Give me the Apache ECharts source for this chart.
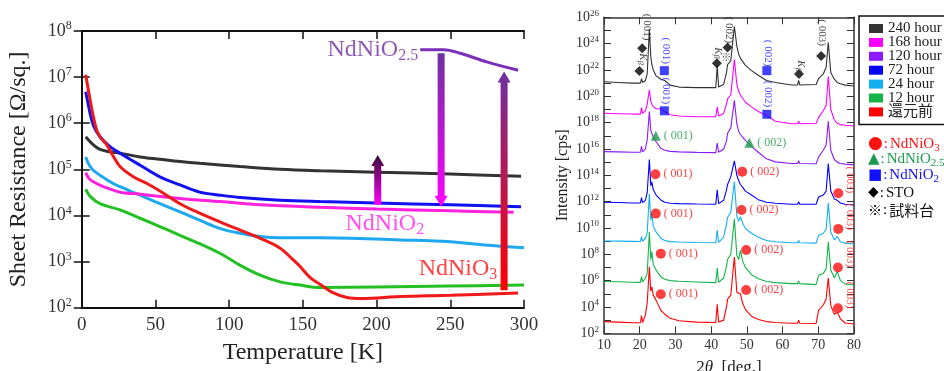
<!DOCTYPE html>
<html><head><meta charset="utf-8">
<script src="https://cdn.jsdelivr.net/npm/echarts@6/dist/echarts.min.js"></script>
<style>html,body{margin:0;padding:0;background:#fff}#c{width:944px;height:371px}</style>
</head><body><div id="c"></div>
<script>
// ================= Left panel: sheet resistance vs temperature =================
const tBlack = [2.7, 7.9, 12.4, 19, 26, 39.6, 53, 66.7, 80, 107.5, 134.6, 161.8, 200, 250, 298];
const rBlack = [5.1e5, 3.4e5, 2.7e5, 2.4e5, 2.24e5, 1.86e5, 1.66e5, 1.48e5, 1.35e5, 1.15e5, 1.0e5, 9.3e4, 8.7e4, 7.9e4, 7.1e4];
const tBlue = [2.7, 4.5, 5.7, 8, 12.4, 19.2, 26, 39.6, 53, 66.7, 80, 94, 107.5, 134.6, 161.8, 200, 250, 298];
const rBlue = [4.8e6, 2.5e6, 1.62e6, 8.9e5, 5.1e5, 3.1e5, 2.24e5, 1.23e5, 6.9e4, 4.6e4, 3.2e4, 2.75e4, 2.45e4, 2.14e4, 2.0e4, 1.86e4, 1.7e4, 1.55e4];
const tMagenta = [2.7, 5, 7.9, 14.7, 26, 39.6, 66.7, 94, 121, 161.8, 200, 250, 293];
const rMagenta = [8.5e4, 6.3e4, 5.4e4, 4.2e4, 3.2e4, 2.9e4, 2.34e4, 2.0e4, 1.7e4, 1.5e4, 1.38e4, 1.26e4, 1.17e4];
const tLightBlue = [2.7, 5, 7.9, 19.2, 26, 39.6, 53, 66.7, 80, 94, 107.5, 121, 134.6, 161.8, 216, 250, 273, 300];
const rLightBlue = [1.86e5, 1.26e5, 9.5e4, 5.4e4, 4.2e4, 2.75e4, 1.8e4, 1.2e4, 7.9e3, 5.2e3, 4.1e3, 3.5e3, 3.3e3, 3.3e3, 2.95e3, 2.7e3, 2.3e3, 2.0e3];
const tGreen = [2.7, 5.7, 12.4, 26, 39.6, 53, 66.7, 80, 94, 107.5, 121, 134.6, 148, 161.8, 200, 250, 300];
const rGreen = [3.7e4, 2.6e4, 1.8e4, 1.32e4, 8.7e3, 5.75e3, 3.7e3, 2.45e3, 1.5e3, 830, 510, 363, 309, 275, 282, 295, 309];
const tRed = [2.7, 5.7, 7.9, 10.2, 12.4, 17, 21.5, 26, 35, 44, 53, 66.7, 80, 94, 107.5, 121, 134.6, 143.7, 148, 155, 162, 170, 180, 190, 216, 250, 296];
const rRed = [1.12e7, 3.2e6, 1.4e6, 7.1e5, 5.1e5, 3.4e5, 1.9e5, 1.15e5, 6.9e4, 5.0e4, 3.4e4, 1.8e4, 1.12e4, 7.2e3, 4.8e3, 3.2e3, 1.95e3, 1.07e3, 790, 450, 316, 214, 166, 158, 174, 186, 209];
const tPurple = [229.6, 245.5, 256.6, 274.7, 296];
const rPurple = [3.9e7, 3.9e7, 3.3e7, 2.14e7, 1.41e7];

// arrows: temperature, start resistance, end (tip) resistance
const arrowT = [200.8, 243.8, 286.5];
const arrowFrom = [1.7e4, 3.3e7, 240];
const arrowTo = [2.04e5, 1.55e4, 1.32e7];

// compound labels (data position of text left edge / vertical centre)
const compoundT = [166.4, 178.6, 228.2];
const compoundR = [3.9e7, 6.5e3, 690];
const compoundSub = ['2.5', '2', '3'];

// ================= Right panel: XRD (log10 of intensity) =================
const twoTheta = [10, 14, 18, 20.2, 20.5, 20.8, 21.6, 22.1, 22.7, 23.1, 23.4, 23.8, 24.6, 25.9, 27.0, 28.5, 31, 36, 41.3, 41.7, 42.1, 43.5, 44.3, 44.6, 45.5, 46.5, 47.2, 47.7, 48.2, 48.8, 49.6, 51.3, 53.2, 55.5, 58, 62.5, 64.2, 64.5, 64.8, 69.4, 70.1, 71.4, 72.2, 72.8, 73.5, 74.5, 75.3, 76.2, 77.5, 80];
const xrd240Log = [21.1, 21.05, 21.0, 21.0, 21.35, 21.05, 21.2, 21.7, 25.1, 23.0, 22.4, 22.0, 21.55, 21.3, 21.2, 20.85, 20.7, 20.66, 20.66, 22.3, 20.7, 20.9, 21.8, 22.4, 22.7, 25.3, 23.8, 23.2, 22.9, 22.65, 22.35, 21.95, 21.6, 21.2, 21.05, 20.86, 20.86, 21.2, 20.86, 20.9, 21.35, 21.7, 22.2, 24.1, 21.8, 21.3, 21.05, 20.95, 20.85, 20.78];
const xrd168Log = [18.71, 18.68, 18.65, 18.65, 19.15, 18.7, 18.9, 19.4, 20.5, 19.6, 19.4, 19.2, 19.05, 19.05, 18.85, 18.6, 18.5, 18.45, 18.45, 19.2, 18.5, 18.7, 19.4, 19.8, 20.1, 22.8, 20.9, 20.4, 20.1, 19.85, 19.55, 19.2, 18.85, 18.55, 18.1, 17.92, 17.92, 18.1, 17.92, 17.95, 18.4, 18.9, 19.3, 21.5, 19.0, 18.2, 17.95, 17.85, 17.8, 17.75];
const xrd120Log = [15.8, 15.78, 15.75, 15.75, 16.2, 15.78, 16.0, 16.7, 18.85, 17.4, 17.3, 16.9, 16.55, 16.05, 15.9, 15.82, 15.78, 15.74, 15.72, 16.45, 15.75, 16.0, 16.6, 17.2, 17.6, 19.7, 17.9, 17.35, 17.1, 16.9, 16.65, 16.2, 15.75, 15.25, 15.02, 14.9, 14.9, 15.1, 14.9, 14.88, 15.4, 15.9, 16.3, 18.1, 15.9, 15.2, 15.0, 14.9, 14.85, 14.79];
const xrd72Log = [11.95, 11.93, 11.9, 11.9, 12.3, 11.92, 12.1, 12.7, 15.2, 13.2, 13.5, 12.9, 12.5, 12.13, 11.95, 11.88, 11.85, 11.82, 11.8, 12.9, 11.85, 12.1, 12.9, 13.3, 13.9, 15.1, 14.0, 13.6, 13.3, 13.1, 12.8, 12.5, 12.15, 11.95, 11.88, 11.8, 11.8, 12.0, 11.8, 11.8, 12.35, 12.5, 12.8, 14.9, 12.8, 12.2, 12.1, 11.9, 11.8, 11.75];
const xrd24Log = [9.01, 9.0, 8.98, 8.97, 9.35, 9.0, 9.2, 9.65, 12.6, 10.6, 11.1, 10.1, 9.7, 9.22, 9.05, 8.96, 8.93, 8.9, 8.88, 9.85, 8.9, 9.3, 10.3, 10.8, 11.2, 13.5, 10.9, 10.5, 10.85, 10.4, 9.95, 9.6, 9.3, 9.05, 8.95, 8.88, 8.88, 9.05, 8.88, 8.85, 9.45, 9.6, 9.9, 11.9, 9.7, 9.1, 9.35, 8.95, 8.85, 8.78];
const xrd12Log = [5.93, 5.92, 5.88, 5.87, 6.3, 5.9, 6.2, 6.55, 9.7, 7.6, 8.2, 7.2, 6.8, 6.3, 6.1, 6.0, 5.95, 5.9, 5.85, 6.95, 5.88, 6.2, 7.1, 7.6, 8.0, 10.7, 7.9, 7.6, 8.3, 7.5, 7.0, 6.45, 6.15, 5.93, 5.85, 5.77, 5.77, 5.95, 5.77, 5.7, 6.4, 6.55, 6.9, 8.95, 6.8, 6.2, 6.7, 6.0, 5.75, 5.67];
const xrd0Log = [2.89, 2.85, 2.8, 2.8, 3.35, 2.82, 3.4, 4.3, 7.05, 5.2, 5.5, 4.9, 4.5, 3.75, 3.45, 3.15, 2.95, 2.85, 2.82, 4.2, 2.85, 3.0, 4.0, 4.6, 4.9, 7.8, 5.1, 4.95, 5.0, 4.3, 3.8, 3.3, 3.05, 2.89, 2.82, 2.76, 2.76, 3.0, 2.76, 2.75, 3.75, 4.15, 4.6, 6.2, 4.1, 3.45, 3.6, 3.1, 2.78, 2.71];
const xrdNames = ['240 hour', '168 hour', '120 hour', '72 hour', '24 hour', '12 hour', '還元前'];

// XRD peak markers [2θ, intensity, tag]
const stoMarks = [[19.9, 8.3e21], [20.7, 4.5e23], [41.6, 3.2e22], [44.6, 5e23], [64.6, 5e21], [70.8, 1.15e23]];
const nio2Marks = [[26.9, 8.9e21], [26.9, 7.9e18], [55.6, 8.9e21], [55.6, 4.3e18]];
const nio25Marks = [[24.5, 1e17, '( 001)'], [50.7, 3e16, '( 002)']];
const nio3Marks = [[24.4, 1.2e14, '( 001)'], [24.5, 1.23e11, '( 001)'], [25.9, 1.12e8, '( 001)'], [25.9, 9.3e4, '( 001)'],
                   [48.7, 1.9e14, '( 002)'], [48.5, 2.3e11, '( 002)'], [49.8, 2.1e8, '( 002)'], [49.8, 1.95e5, '( 002)'],
                   [75.6, 4.4e12, ''], [75.6, 8.5e9, ''], [75.5, 9.8e6, ''], [75.5, 7.9e3, '']];
const stoTags = [[21.95, 1.8e25, '( 001)'], [45.1, 1.1e25, '( 002)'], [71.1, 7e24, '( 003)']];
const nio2Tags = [[27.4, 2.9e23, '( 001)'], [27.4, 2.6e20, '( 001)'], [55.8, 1.9e23, '( 002)'], [55.8, 1.5e20, '( 002)']];
const nio3Tags = [[78.9, 4.5e13, '( 003)'], [78.9, 7.2e10, '( 003)'], [78.9, 1.07e8, '( 003)'], [78.9, 8.1e4, '( 003)']];
const kbTags = [[20.8, 6.8e22], [42.0, 2e23], [65.0, 2e22]];
const holderTags = [[44.2, 1e23]];

// ================= styling =================
const SERIF = "'Liberation Serif','Times New Roman','DejaVu Serif','Noto Sans CJK JP',serif";
const leftColors = {black: '#333333', blue: '#1010f0', magenta: '#ff22dd', lightBlue: '#1ea8f0', green: '#22c022', red: '#f01818', purple: '#7a2fb8'};
const xrdColors = ['#333333', '#ff00ff', '#8c1aff', '#0000ff', '#10b0f0', '#14b44a', '#ff0000'];
const arrowColors = [['#ff00ff', '#3a0a36'], ['#7030a0', '#ff00ff'], ['#ff0000', '#7030a0']];
const compoundColors = ['#7030a0', '#ff22ee', '#ff1010'];

const zip = (xs, ys) => xs.map((x, i) => [x, ys[i]]);
const pow10 = arr => arr.map(v => Math.pow(10, v));
const exp10 = v => Math.round(Math.log10(v));

function powRich(base, sup, color) {
  return {
    b: {fontSize: base, fontFamily: SERIF, color: color},
    s: {fontSize: sup, fontFamily: SERIF, color: color, padding: [0, 0, Math.round(base * 0.55), 0]}
  };
}

const leftLine = (name, ts, rs, color) => ({
  name, type: 'line', xAxisIndex: 0, yAxisIndex: 0, data: zip(ts, rs),
  smooth: 0.35, showSymbol: false, symbol: 'none',
  lineStyle: {color, width: 3}, itemStyle: {color}, z: 3
});

const series = [
  leftLine('R 240h', tBlack, rBlack, leftColors.black),
  leftLine('R 24h', tLightBlue, rLightBlue, leftColors.lightBlue),
  leftLine('R 168h', tMagenta, rMagenta, leftColors.magenta),
  leftLine('R 12h', tGreen, rGreen, leftColors.green),
  leftLine('R 72h', tBlue, rBlue, leftColors.blue),
  leftLine('R before', tRed, rRed, leftColors.red),
  leftLine('NdNiO2.5', tPurple, rPurple, leftColors.purple),
  {
    type: 'custom', xAxisIndex: 0, yAxisIndex: 0, z: 5,
    data: arrowT.map((t, i) => [t, arrowFrom[i], arrowTo[i], i]),
    renderItem(params, api) {
      const i = api.value(3);
      const p0 = api.coord([api.value(0), api.value(1)]);
      const p1 = api.coord([api.value(0), api.value(2)]);
      const dir = p1[1] < p0[1] ? -1 : 1;
      const hw = 3.5, headW = 6.5, headL = 11;
      const neck = p1[1] - dir * headL;
      const x = p0[0];
      const pts = [[x - hw, p0[1]], [x - hw, neck], [x - headW, neck], [x, p1[1]], [x + headW, neck], [x + hw, neck], [x + hw, p0[1]]];
      const c = arrowColors[i];
      return {
        type: 'polygon', shape: {points: pts},
        style: {fill: new echarts.graphic.LinearGradient(0, p0[1], 0, p1[1], [{offset: 0, color: c[0]}, {offset: 1, color: c[1]}], true)}
      };
    }
  }
];

compoundT.forEach((t, i) => {
  series.push({
    type: 'scatter', xAxisIndex: 0, yAxisIndex: 0, symbolSize: 1, z: 6,
    itemStyle: {color: 'rgba(0,0,0,0)'},
    data: [[t, compoundR[i]]],
    label: {
      show: true, position: 'right', distance: 0,
      formatter: '{m|NdNiO}{u|' + compoundSub[i] + '}',
      rich: {
        m: {fontSize: 24, fontFamily: SERIF, color: compoundColors[i]},
        u: {fontSize: 16, fontFamily: SERIF, color: compoundColors[i], padding: [12, 0, 0, 0]}
      }
    }
  });
});

// XRD traces
[xrd240Log, xrd168Log, xrd120Log, xrd72Log, xrd24Log, xrd12Log, xrd0Log].forEach((arr, i) => {
  series.push({
    name: xrdNames[i], type: 'line', xAxisIndex: 2, yAxisIndex: 2,
    data: zip(twoTheta, pow10(arr)), showSymbol: false, symbol: 'none',
    lineStyle: {color: xrdColors[i], width: 1.1}, itemStyle: {color: xrdColors[i]}, z: 3
  });
});

const markerSeries = (data, symbol, size, color, labelOpts) => ({
  type: 'scatter', xAxisIndex: 2, yAxisIndex: 2, symbol, symbolSize: size, z: 6,
  itemStyle: {color}, data,
  label: labelOpts || {show: false}
});
series.push(markerSeries(stoMarks, 'diamond', 10, '#000'));
series.push(markerSeries(nio2Marks, 'rect', 9, '#1010ff'));
series.push(markerSeries(nio25Marks, 'triangle', 10, '#1a9a4a', {
  show: true, position: 'right', distance: 3, formatter: p => p.data[2],
  fontSize: 12, fontFamily: SERIF, color: '#1a9a4a'
}));
series.push(markerSeries(nio3Marks, 'circle', 10, '#ff1010', {
  show: true, position: 'right', distance: 3, formatter: p => p.data[2],
  fontSize: 12, fontFamily: SERIF, color: '#ff1010'
}));
const tagSeries = (data, color, text, rotate, extra) => ({
  type: 'scatter', xAxisIndex: 2, yAxisIndex: 2, symbolSize: 1, z: 7,
  itemStyle: {color: 'rgba(0,0,0,0)'}, data,
  label: Object.assign({
    show: true, position: 'inside', rotate, formatter: text,
    fontSize: 11, fontFamily: SERIF, color
  }, extra || {})
});
series.push(tagSeries(stoTags, '#222', p => p.data[2], -90));
series.push(tagSeries(nio2Tags, '#2020ff', p => p.data[2], -90));
series.push(tagSeries(nio3Tags, '#ff2020', p => p.data[2], -90));
series.push(tagSeries(kbTags, '#222', '{k|K}{b|β}', -90, {
  rich: {k: {fontSize: 11, fontFamily: SERIF, fontStyle: 'italic', color: '#222'},
         b: {fontSize: 8, fontFamily: SERIF, fontStyle: 'italic', color: '#222', padding: [5, 0, 0, 0]}}
}));
series.push(tagSeries(holderTags, '#222', '※', 0, {fontSize: 10, fontFamily: "'Noto Sans CJK JP'"}));

// ================= axes =================
const leftYLabel = {
  fontFamily: SERIF, margin: 10,
  formatter: v => '{b|10}{s|' + exp10(v) + '}',
  rich: powRich(18, 12, '#333')
};
const rightYLabel = {
  fontFamily: SERIF, margin: 5,
  formatter: v => { const e = exp10(v); return e % 2 === 0 ? '{b|10}{s|' + e + '}' : ''; },
  rich: powRich(14, 9, '#333')
};

const option = {
  animation: false,
  backgroundColor: '#fff',
  grid: [
    {left: 81.7, top: 31, width: 442.3, height: 276.7, containLabel: false, outerBoundsMode: 'none'},
    {left: 604, top: 17.3, width: 250, height: 316, containLabel: false, outerBoundsMode: 'none'}
  ],
  legend: {
    data: xrdNames, orient: 'vertical', left: 859, top: 16,
    itemWidth: 14, itemHeight: 9, itemGap: -1.1, icon: 'rect',
    padding: [5, 40, 5, 10], borderColor: '#111', borderWidth: 1.5,
    textStyle: {fontSize: 15, lineHeight: 14, fontFamily: SERIF, color: '#222'},
    selectedMode: false
  },
  xAxis: [
    {gridIndex: 0, type: 'value', min: 0, max: 300, interval: 50, position: 'bottom',
     axisLine: {lineStyle: {color: '#111', width: 2}},
     axisTick: {inside: true, length: 8, lineStyle: {width: 1.5, color: '#111'}},
     axisLabel: {fontSize: 19, fontFamily: SERIF, color: '#333', margin: 8},
     splitLine: {show: false},
     name: 'Temperature [K]', nameLocation: 'middle', nameGap: 33,
     nameTextStyle: {fontSize: 24, fontFamily: SERIF, color: '#222'}},
    {gridIndex: 0, type: 'value', min: 0, max: 300, interval: 50, position: 'top',
     axisLine: {lineStyle: {color: '#111', width: 2}},
     axisTick: {inside: true, length: 8, lineStyle: {width: 1.5, color: '#111'}},
     axisLabel: {show: false}, splitLine: {show: false}},
    {gridIndex: 1, type: 'value', min: 10, max: 80, interval: 10, position: 'bottom',
     axisLine: {lineStyle: {color: '#333', width: 1.5}},
     axisTick: {inside: true, length: 7, lineStyle: {width: 1, color: '#333'}},
     axisLabel: {fontSize: 14, fontFamily: SERIF, color: '#333', margin: 5},
     splitLine: {show: false},
     name: '{n|2}{i|θ}{n|  [deg.]}', nameLocation: 'middle', nameGap: 26,
     nameTextStyle: {rich: {n: {fontSize: 17, fontFamily: SERIF, color: '#222'}, i: {fontSize: 17, fontFamily: SERIF, fontStyle: 'italic', color: '#222'}}}},
    {gridIndex: 1, type: 'value', min: 10, max: 80, interval: 10, position: 'top',
     axisLine: {lineStyle: {color: '#333', width: 1.5}},
     axisTick: {inside: true, length: 7, lineStyle: {width: 1, color: '#333'}},
     axisLabel: {show: false}, splitLine: {show: false}}
  ],
  yAxis: [
    {gridIndex: 0, type: 'log', logBase: 10, min: 1e2, max: 1e8, interval: 1, position: 'left',
     axisLine: {lineStyle: {color: '#111', width: 2}},
     axisTick: {inside: true, length: 8, lineStyle: {width: 1.5, color: '#111'}},
     axisLabel: leftYLabel, splitLine: {show: false},
     name: 'Sheet Resistance [Ω/sq.]', nameLocation: 'middle', nameGap: 51,
     nameTextStyle: {fontSize: 24, fontFamily: SERIF, color: '#222'}},
    {gridIndex: 0, type: 'log', logBase: 10, min: 1e2, max: 1e8, interval: 1, position: 'right',
     axisLine: {lineStyle: {color: '#111', width: 2}},
     axisTick: {inside: true, length: 8, lineStyle: {width: 1.5, color: '#111'}},
     axisLabel: {show: false}, splitLine: {show: false}},
    {gridIndex: 1, type: 'log', logBase: 10, min: 1e2, max: 1e26, interval: 1, position: 'left',
     axisLine: {lineStyle: {color: '#333', width: 1.5}},
     axisTick: {inside: true, length: 7, lineStyle: {width: 1, color: '#333'}},
     axisLabel: rightYLabel, splitLine: {show: false},
     name: 'Intensity [cps]', nameLocation: 'middle', nameGap: 33,
     nameTextStyle: {fontSize: 16, fontFamily: SERIF, color: '#222'}},
    {gridIndex: 1, type: 'log', logBase: 10, min: 1e2, max: 1e26, interval: 1, position: 'right',
     axisLine: {lineStyle: {color: '#333', width: 1.5}},
     axisTick: {inside: true, length: 7, lineStyle: {width: 1, color: '#333'}},
     axisLabel: {show: false}, splitLine: {show: false}}
  ],
  graphic: [
    {type: 'text', x: 868, y: 144, style: {text: '{a|●}{c|:}{m|NdNiO}{u|3}', verticalAlign: 'middle',
      rich: {a: {fontSize: 17, fontFamily: "'DejaVu Sans'", fill: '#ff1010'}, c: {fontSize: 15, fontFamily: SERIF, fill: '#ff1010', padding: [0, 2, 0, 1]},
             m: {fontSize: 15, fontFamily: SERIF, fill: '#ff1010'}, u: {fontSize: 11, fontFamily: SERIF, fill: '#ff1010', padding: [8, 0, 0, 0]}}}},
    {type: 'text', x: 868, y: 159.5, style: {text: '{a|▲}{c|:}{m|NdNiO}{u|2.5}', verticalAlign: 'middle',
      rich: {a: {fontSize: 15, fontFamily: "'DejaVu Sans'", fill: '#1a9a4a'}, c: {fontSize: 15, fontFamily: SERIF, fill: '#1a9a4a', padding: [0, 2, 0, 1]},
             m: {fontSize: 15, fontFamily: SERIF, fill: '#1a9a4a'}, u: {fontSize: 11, fontFamily: SERIF, fill: '#1a9a4a', padding: [8, 0, 0, 0]}}}},
    {type: 'text', x: 868, y: 175, style: {text: '{a|■}{c|:}{m|NdNiO}{u|2}', verticalAlign: 'middle',
      rich: {a: {fontSize: 15, fontFamily: "'DejaVu Sans'", fill: '#1010ff'}, c: {fontSize: 15, fontFamily: SERIF, fill: '#1010ff', padding: [0, 2, 0, 1]},
             m: {fontSize: 15, fontFamily: SERIF, fill: '#1010ff'}, u: {fontSize: 11, fontFamily: SERIF, fill: '#1010ff', padding: [8, 0, 0, 0]}}}},
    {type: 'text', x: 868, y: 192.7, style: {text: '{a|◆}{c|:}{m|STO}', verticalAlign: 'middle',
      rich: {a: {fontSize: 14, fontFamily: "'DejaVu Sans'", fill: '#000'}, c: {fontSize: 15, fontFamily: SERIF, fill: '#000', padding: [0, 2, 0, 1]},
             m: {fontSize: 15, fontFamily: SERIF, fill: '#111'}}}},
    {type: 'text', x: 868, y: 210, style: {text: '{a|※}{c|:}{m|試料台}', verticalAlign: 'middle',
      rich: {a: {fontSize: 14, fontFamily: "'Noto Sans CJK JP'", fill: '#000'}, c: {fontSize: 15, fontFamily: SERIF, fill: '#000', padding: [0, 2, 0, 1]},
             m: {fontSize: 15, fontFamily: "'Noto Sans CJK JP'", fill: '#111'}}}}
  ],
  series
};

const chart = echarts.init(document.getElementById('c'), null, {renderer: 'canvas', width: 944, height: 371});
chart.setOption(option);
</script>
</body></html>
